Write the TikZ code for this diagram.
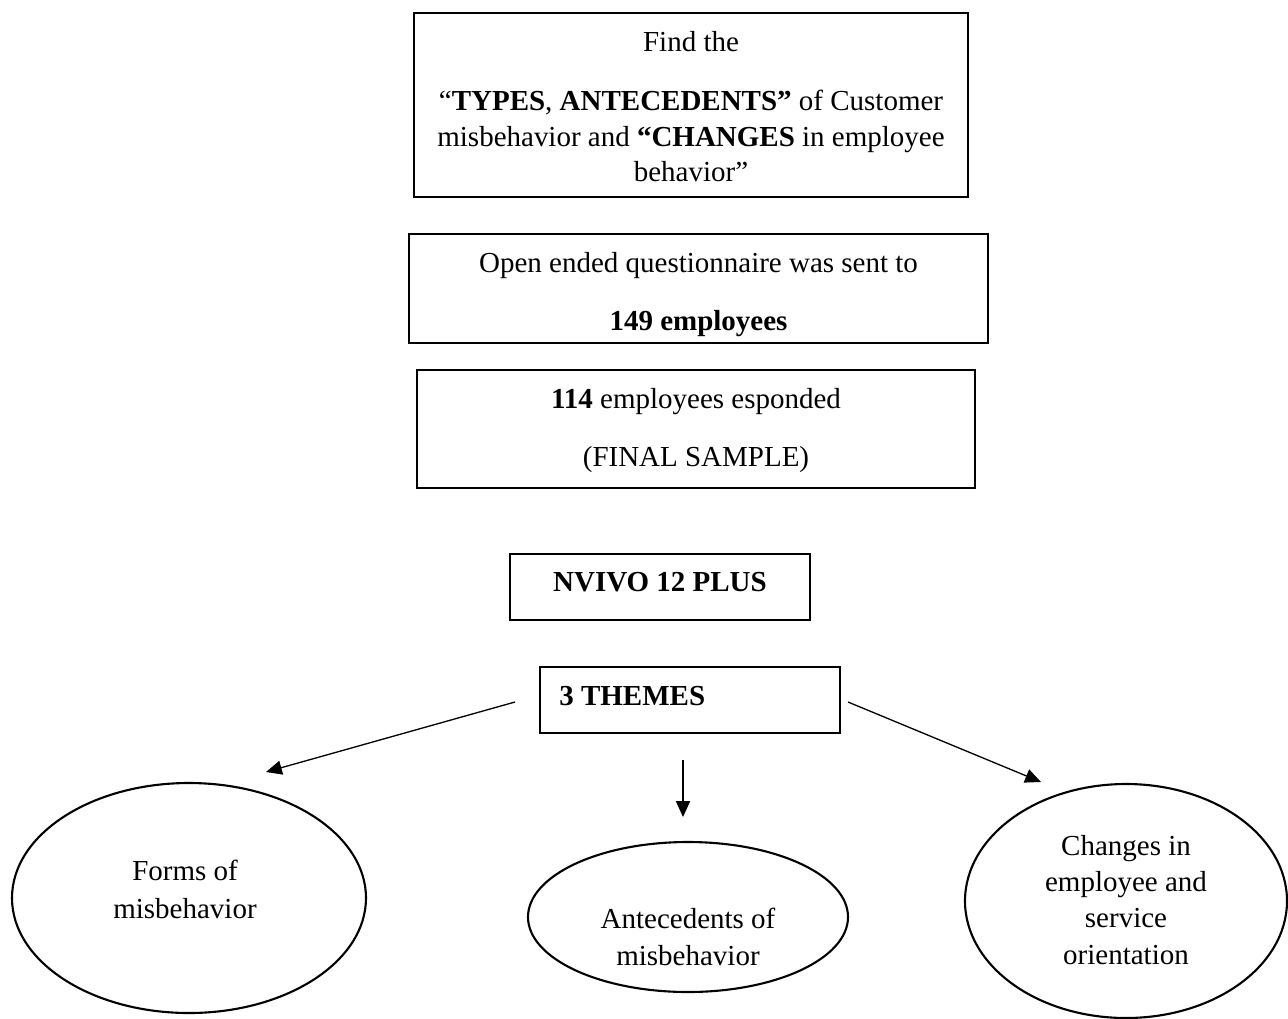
\documentclass[tikz,border=0pt]{standalone}
\usepackage{fontspec}
\setmainfont{Liberation Serif}
\usetikzlibrary{shapes.geometric,arrows.meta}
\begin{document}
\begin{tikzpicture}[x=0.02cm,y=-0.02cm,
  box/.style={draw, line width=0.9pt, rectangle, inner sep=0pt},
  bubble/.style={draw, line width=1.2pt, ellipse, inner sep=0pt},
  txt/.style={anchor=base, inner sep=0pt, font=\fontsize{16.5}{21}\selectfont},
  arr/.style={line width=0.75pt, -{Triangle[length=9pt,width=8pt]}}]
\useasboundingbox (0,0) rectangle (1288,1018);

% rectangular steps
\node[box, minimum width={554*0.02cm}, minimum height={184*0.02cm}] (goal) at (691,105) {};
\node[box, minimum width={579*0.02cm}, minimum height={109*0.02cm}] (sent) at (698.5,288.5) {};
\node[box, minimum width={558*0.02cm}, minimum height={118*0.02cm}] (sample) at (696,429) {};
\node[box, minimum width={300*0.02cm}, minimum height={66*0.02cm}] (nvivo) at (660,587) {};
\node[box, minimum width={300*0.02cm}, minimum height={66*0.02cm}] (themes) at (690,700) {};

% text of the steps
\node[txt] (goalA) at (691,51.7) {Find the};
\node[txt] (goalB) at (691,110) {“\textbf{TYPES}, \textbf{ANTECEDENTS”} of Customer};
\node[txt] (goalC) at (691,146.7) {misbehavior and \textbf{“CHANGES} in employee};
\node[txt] (goalD) at (691,181.7) {behavior”};
\node[txt] (sentA) at (698.5,272.7) {Open ended questionnaire was sent to};
\node[txt] (sentB) at (698.5,330) {\textbf{149 employees}};
\node[txt] (sampleA) at (696,408) {\textbf{114} employees esponded};
\node[txt] (sampleB) at (696,466.7) {(FINAL SAMPLE)};
\node[txt] (nvivoT) at (660,591.7) {\textbf{NVIVO 12 PLUS}};
\node[txt, anchor=base west] (themesT) at (559,705) {\textbf{3 THEMES}};

% the three themes
\node[bubble, minimum width={354*0.02cm}, minimum height={230*0.02cm}] (forms) at (189,898) {};
\node[bubble, minimum width={320*0.02cm}, minimum height={150*0.02cm}] (antec) at (688,917) {};
\node[bubble, minimum width={322*0.02cm}, minimum height={234*0.02cm}] (changes) at (1126,901) {};

\node[txt] (formsA) at (185,880.7) {Forms of};
\node[txt] (formsB) at (185,918) {misbehavior};
\node[txt] (antecA) at (688,928) {Antecedents of};
\node[txt] (antecB) at (688,965) {misbehavior};
\node[txt] (changesA) at (1126,855) {Changes in};
\node[txt] (changesB) at (1126,891.7) {employee and};
\node[txt] (changesC) at (1126,927) {service};
\node[txt] (changesD) at (1126,964) {orientation};

% arrows from the themes box
\coordinate (lS) at (515,702);
\coordinate (lE) at (266,772);
\coordinate (mS) at (683,760);
\coordinate (mE) at (683,817);
\coordinate (rS) at (848,702);
\coordinate (rE) at (1041,782);
\draw[arr] (lS) -- (lE);
\draw[arr] (mS) -- (mE);
\draw[arr] (rS) -- (rE);
\end{tikzpicture}
\end{document}
